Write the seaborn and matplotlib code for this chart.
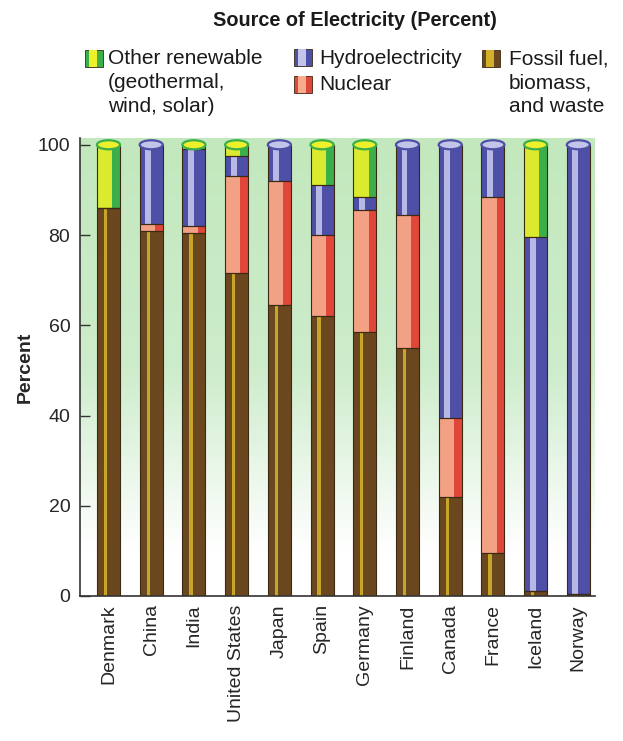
import numpy as np
import pandas as pd
import matplotlib
matplotlib.use("Agg")
import matplotlib.pyplot as plt
import seaborn as sns
from matplotlib.patches import Rectangle, Ellipse
from matplotlib.colors import LinearSegmentedColormap

countries = ["Denmark", "China", "India", "United States", "Japan", "Spain",
             "Germany", "Finland", "Canada", "France", "Iceland", "Norway"]
fossil = [86, 81, 80.5, 71.5, 64.5, 62, 58.5, 55, 22, 9.5, 1, 0.5]
nuclear = [0, 1.5, 1.5, 21.5, 27.5, 18, 27, 29.5, 17.5, 79, 0, 0]
hydro = [0, 17.5, 17, 4.5, 8, 11, 3, 15.5, 60.5, 11.5, 78.5, 99.5]
other = [14, 0, 1, 2.5, 0, 9, 11.5, 0, 0, 0, 20.5, 0]
yticks = [0, 20, 40, 60, 80, 100]

title = "Source of Electricity (Percent)"
legend_other = "Other renewable\n(geothermal,\nwind, solar)"
legend_hydro = "Hydroelectricity"
legend_nuclear = "Nuclear"
legend_fossil = "Fossil fuel,\nbiomass,\nand waste"

# colours: (base, highlight)
C_FOSSIL = ("#6b4720", "#d2b02a")
C_NUC = ("#e0473a", "#f6ac8e")
C_HYD = ("#4e4fa6", "#c3c4ea")
C_OTH = ("#3bb04a", "#eef02c")
EDGE = "#3a2a14"

sns.set_style("white")
plt.rcParams["font.family"] = ["Liberation Sans", "DejaVu Sans"]

W, H = 623, 741
fig = plt.figure(figsize=(W / 100, H / 100), dpi=100)
ax = fig.add_axes([80 / W, 1 - 596 / H, 515 / W, 458 / H])

df = pd.DataFrame({"country": countries, "fossil": fossil, "nuclear": nuclear,
                   "hydro": hydro, "other": other})
df["c1"] = df["fossil"]
df["c2"] = df["c1"] + df["nuclear"]
df["c3"] = df["c2"] + df["hydro"]
df["c4"] = df["c3"] + df["other"]

XL = (-0.667, 11.39)
YL = (0, 101.5)
BW = 0.54

# background green gradient
grad = np.linspace(0, 1, 256).reshape(-1, 1)
cmap = LinearSegmentedColormap.from_list("bg", [(0, "#ffffff"), (0.1, "#ffffff"),
                                               (0.5, "#cdeccb"), (1, "#c3e8bd")])
ax.imshow(grad, extent=[XL[0], XL[1], YL[0], YL[1]], origin="lower",
          aspect="auto", cmap=cmap, zorder=0)

layers = [("c4", C_OTH), ("c3", C_HYD), ("c2", C_NUC), ("c1", C_FOSSIL)]
for col, (base, hl) in layers:
    sns.barplot(data=df, x="country", y=col, color=base, saturation=1,
                width=BW, ax=ax, zorder=2, linewidth=0)

x = np.arange(len(countries))
segs = [("fossil", 0, C_FOSSIL, 0.08, -0.07),
        ("nuclear", "c1", C_NUC, 0.36, -0.09),
        ("hydro", "c2", C_HYD, 0.14, -0.07),
        ("other", "c3", C_OTH, 0.36, -0.09)]
for col, bcol, (base, hl), hw, off in segs:
    bottom = 0 if bcol == 0 else df[bcol].values
    ax.bar(x + off, df[col].values, bottom=bottom, width=hw, color=hl,
           linewidth=0, zorder=3, alpha=0.9)
    ax.bar(x, df[col].values, bottom=bottom, width=BW, fill=False,
           edgecolor=EDGE, linewidth=0.8, zorder=4)

# cylinder caps
for i, row in df.iterrows():
    top = row["c4"]
    if row["other"] > 0:
        cc = C_OTH
    elif row["hydro"] > 0:
        cc = C_HYD
    else:
        cc = C_NUC
    ax.add_patch(Ellipse((i, top), BW, 2.0, facecolor=cc[1], edgecolor=cc[0],
                         linewidth=1.6, zorder=5))

ax.set_xlim(*XL)
ax.set_ylim(*YL)
ax.set_yticks(yticks)
ax.set_yticklabels([str(v) for v in yticks], fontsize=14)
ax.set_xticks(x)
ax.set_xticklabels(countries, rotation=90, fontsize=14, va="top", ha="center")
ax.tick_params(axis="y", direction="in", length=7, width=1, color="#333333",
               pad=7, left=True)
ax.tick_params(axis="x", length=0, pad=6)
ax.set_xlabel("")
ax.set_ylabel("Percent", fontsize=14, fontweight="bold", labelpad=3)
for s in ["top", "right"]:
    ax.spines[s].set_visible(False)
for s in ["left", "bottom"]:
    ax.spines[s].set_color("#333333")
    ax.spines[s].set_linewidth(1.2)
    ax.spines[s].set_zorder(6)


def fx(px):
    return px / W


def fy(py):
    return 1 - py / H


fig.text(fx(355), fy(20), title, fontsize=14.3, fontweight="bold",
         ha="center", va="center", color="#1a1a1a")


def icon(px, py, cols):
    base, hl = cols
    fig.patches.append(Rectangle((fx(px), fy(py + 17)), 18 / W, 17 / H,
                                 transform=fig.transFigure, facecolor=base,
                                 edgecolor=EDGE, linewidth=0.6))
    fig.patches.append(Rectangle((fx(px + 4), fy(py + 17)), 8 / W, 17 / H,
                                 transform=fig.transFigure, facecolor=hl,
                                 edgecolor="none"))


icon(85, 50, C_OTH)
icon(294, 49, C_HYD)
icon(294, 76, C_NUC)
icon(482, 50, C_FOSSIL)

tkw = dict(fontsize=15, ha="left", va="top", linespacing=1.33, color="#1a1a1a")
fig.text(fx(108), fy(49.5), legend_other, **tkw)
fig.text(fx(319), fy(49.5), legend_hydro, **tkw)
fig.text(fx(319), fy(75), legend_nuclear, **tkw)
fig.text(fx(509), fy(49.5), legend_fossil, **tkw)

fig.savefig("out.png", dpi=100)
